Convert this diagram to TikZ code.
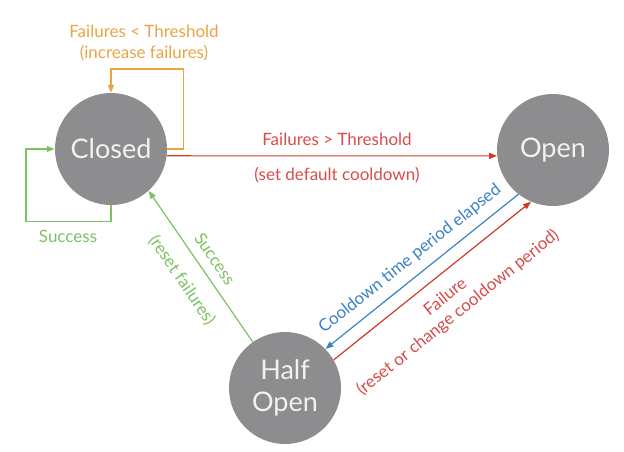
\documentclass[tikz,border=0pt]{standalone}
\usepackage{fontspec}
\setmainfont{Lato}
\usetikzlibrary{arrows.meta}
\definecolor{stategray}{HTML}{8D8D8F}
\definecolor{statetext}{HTML}{F2F2F2}
\definecolor{orng}{HTML}{E9A444}
\definecolor{redline}{HTML}{D03B27}
\definecolor{redtext}{HTML}{D94B4B}
\definecolor{grn}{HTML}{7DC162}
\definecolor{blu}{HTML}{3C82C6}
\tikzset{
  state/.style={circle, fill=stategray, minimum size=112pt, inner sep=0pt,
    text=statetext, font=\fontsize{27}{32}\selectfont, align=center},
  conn/.style={line width=1.2pt, -{Triangle[length=8pt,width=6pt]}},
  lbl/.style={font=\fontsize{17}{20}\selectfont, inner sep=0pt}
}
\begin{document}
\begin{tikzpicture}[x=1pt,y=-1pt]
\useasboundingbox (0,0) rectangle (624,452);
\node[state] (closed) at (111,149) {Closed};
\node[state] (open) at (553,150) {Open};
\node[state] (half) at (285,388) {Half\\Open};

% self loops
\draw[conn, orng] (closed.east) -| ++(16,-80) -| (closed.north);
\draw[conn, grn] (closed.south) |- ++(-85,16) |- (closed.west);

% transitions
\draw[conn, redline] (closed.-7) -- (open.186);
\draw[conn, grn] (half.125) -- (closed.-48);
\draw[conn, blu] (open.232) -- (half.44);
\draw[conn, redline] (half.30) -- (open.247);

% labels
\node[lbl, text=orng] (l1) at (144,31) {Failures < Threshold};
\node[lbl, text=orng] (l2) at (144,53) {(increase failures)};
\node[lbl, text=redtext] (l3) at (337,139) {Failures > Threshold};
\node[lbl, text=redtext] (l4) at (337,175) {(set default cooldown)};
\node[lbl, text=grn] (l5) at (68,236) {Success};
\node[lbl, text=grn, rotate=-55.6] (l6) at (215,259) {Success};
\node[lbl, text=grn, rotate=-55.6] (l7) at (182,280) {(reset failures)};
\node[lbl, text=blu, rotate=38.6] (l8) at (410,259) {Cooldown time period elapsed};
\node[lbl, text=redtext, rotate=38.7, align=center] (l9) at (452,305) {Failure\\(reset or change cooldown period)};
\end{tikzpicture}
\end{document}
